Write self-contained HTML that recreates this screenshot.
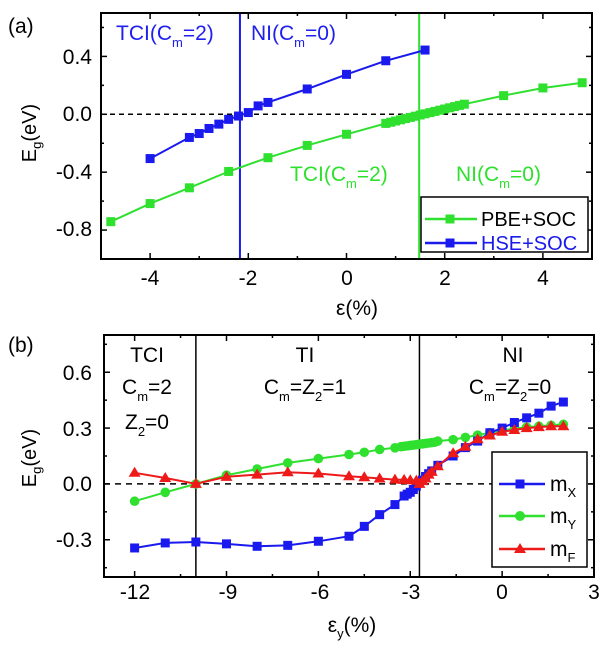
<!DOCTYPE html>
<html><head><meta charset="utf-8"><style>
html,body{margin:0;padding:0;background:#fff;}
svg{display:block;font-family:"Liberation Sans",Arial,sans-serif;}
</style></head><body>
<svg id="s" width="603" height="654" viewBox="0 0 603 654" xmlns="http://www.w3.org/2000/svg">
<rect width="603" height="654" fill="#fff"/>
<g id="plots"></g>
<text x="8" y="33" font-size="21">(a)</text>
<g font-size="21" text-anchor="end">
<text x="92" y="64">0.4</text><text x="92" y="121">0.0</text><text x="92" y="179">-0.4</text><text x="92" y="236">-0.8</text>
</g>
<g font-size="21" text-anchor="middle">
<text x="150" y="285">-4</text><text x="248" y="285">-2</text><text x="347" y="285">0</text><text x="445" y="285">2</text><text x="543" y="285">4</text>
<text x="357" y="315">ε(%)</text>
</g>
<text transform="translate(36,133) rotate(-90)" font-size="20" text-anchor="middle">E<tspan font-size="13" dy="5">g</tspan><tspan dy="-5">(eV)</tspan></text>
<g font-size="21" fill="#2020ee">
<text x="116" y="40">TCI(C<tspan font-size="13" dy="7">m</tspan><tspan dy="-7">=2)</tspan></text>
<text x="251" y="40">NI(C<tspan font-size="13" dy="7">m</tspan><tspan dy="-7">=0)</tspan></text>
</g>
<g font-size="21" fill="#2fe02f">
<text x="290" y="181">TCI(C<tspan font-size="13" dy="7">m</tspan><tspan dy="-7">=2)</tspan></text>
<text x="456" y="181">NI(C<tspan font-size="13" dy="7">m</tspan><tspan dy="-7">=0)</tspan></text>
</g>
<rect x="421" y="197" width="167" height="55" fill="#fff" stroke="#000" stroke-width="1.5"/>
<line x1="425" y1="219" x2="477" y2="219" stroke="#2fe02f" stroke-width="2.5"/><rect x="445.5" y="214.5" width="9" height="9" fill="#2fe02f"/>
<line x1="425" y1="243" x2="477" y2="243" stroke="#1a1aee" stroke-width="2.5"/><rect x="445.5" y="238.5" width="9" height="9" fill="#1a1aee"/>
<text x="481" y="226" font-size="20">PBE+SOC</text>
<text x="481" y="250" font-size="20" fill="#1a1aee">HSE+SOC</text>
<text x="8" y="352" font-size="21">(b)</text>
<g font-size="21" text-anchor="end">
<text x="92" y="380">0.6</text><text x="92" y="436">0.3</text><text x="92" y="491">0.0</text><text x="92" y="547">-0.3</text>
</g>
<g font-size="21" text-anchor="middle">
<text x="135" y="599">-12</text><text x="228" y="599">-9</text><text x="320" y="599">-6</text><text x="411" y="599">-3</text><text x="502" y="599">0</text><text x="594" y="599">3</text>
<text x="352" y="632">ε<tspan font-size="13" dy="6">y</tspan><tspan dy="-6">(%)</tspan></text>
</g>
<text transform="translate(36,458) rotate(-90)" font-size="20" text-anchor="middle">E<tspan font-size="13" dy="5">g</tspan><tspan dy="-5">(eV)</tspan></text>
<g font-size="21" text-anchor="middle">
<text x="147" y="362">TCI</text>
<text x="147" y="394">C<tspan font-size="13" dy="7">m</tspan><tspan dy="-7">=2</tspan></text>
<text x="147" y="429">Z<tspan font-size="13" dy="7">2</tspan><tspan dy="-7">=0</tspan></text>
<text x="305" y="362">TI</text>
<text x="305" y="394">C<tspan font-size="13" dy="7">m</tspan><tspan dy="-7">=Z</tspan><tspan font-size="13" dy="7">2</tspan><tspan dy="-7">=1</tspan></text>
<text x="513" y="362">NI</text>
<text x="510" y="394">C<tspan font-size="13" dy="7">m</tspan><tspan dy="-7">=Z</tspan><tspan font-size="13" dy="7">2</tspan><tspan dy="-7">=0</tspan></text>
</g>
<rect x="492" y="452" width="95" height="115" fill="#fff" stroke="#000" stroke-width="1.5"/>
<line x1="499" y1="484" x2="545" y2="484" stroke="#1a1aee" stroke-width="2.5"/><rect x="515.5" y="479.5" width="9" height="9" fill="#1a1aee"/>
<line x1="499" y1="516" x2="545" y2="516" stroke="#2fe02f" stroke-width="2.5"/><circle cx="520" cy="516" r="5" fill="#2fe02f"/>
<line x1="499" y1="549" x2="545" y2="549" stroke="#ee1a1a" stroke-width="2.5"/><polygon points="520,543 526,553 514,553" fill="#ee1a1a"/>
<g font-size="21">
<text x="550" y="491">m<tspan font-size="13" dy="6">X</tspan></text>
<text x="550" y="523">m<tspan font-size="13" dy="6">Y</tspan></text>
<text x="550" y="556">m<tspan font-size="13" dy="6">F</tspan></text>
</g>
</svg>
<script>
(function(){
var g=document.getElementById('plots'),h='';
function ax(L,R,T,B,xmin,xmax,ymin,ymax,xM,xm,yM,ym){
 var X=function(v){return L+(v-xmin)/(xmax-xmin)*(R-L)},Y=function(e){return B-(e-ymin)/(ymax-ymin)*(B-T)};
 var s='';
 for(var v=Math.ceil(xmin/xm-1e-9)*xm;v<=xmax+1e-9;v+=xm){var isM=Math.abs(v/xM-Math.round(v/xM))<1e-6,l=isM?6:3,x=X(v);
  s+='<line x1="'+x+'" y1="'+B+'" x2="'+x+'" y2="'+(B-l)+'" stroke="#000" stroke-width="1.5"/><line x1="'+x+'" y1="'+T+'" x2="'+x+'" y2="'+(T+l)+'" stroke="#000" stroke-width="1.5"/>';}
 for(var e=Math.ceil(ymin/ym-1e-9)*ym;e<=ymax+1e-9;e+=ym){var isM=Math.abs(e/yM-Math.round(e/yM))<1e-6,l=isM?6:3,y=Y(e);
  s+='<line x1="'+L+'" y1="'+y+'" x2="'+(L+l)+'" y2="'+y+'" stroke="#000" stroke-width="1.5"/><line x1="'+R+'" y1="'+y+'" x2="'+(R-l)+'" y2="'+y+'" stroke="#000" stroke-width="1.5"/>';}
 return {X:X,Y:Y,s:s};
}
function series(A,pts,col,mk){
 var p=pts.map(function(q){return A.X(q[0]).toFixed(1)+','+A.Y(q[1]).toFixed(1)}).join(' ');
 var s='<polyline points="'+p+'" fill="none" stroke="'+col+'" stroke-width="2"/>';
 pts.forEach(function(q){var x=A.X(q[0]),y=A.Y(q[1]);
  if(mk=='s')s+='<rect x="'+(x-4.5)+'" y="'+(y-4.5)+'" width="9" height="9" fill="'+col+'"/>';
  else if(mk=='c')s+='<circle cx="'+x+'" cy="'+y+'" r="4.8" fill="'+col+'"/>';
  else s+='<polygon points="'+x+','+(y-6)+' '+(x+6)+','+(y+4)+' '+(x-6)+','+(y+4)+'" fill="'+col+'"/>';});
 return s;
}
var GR='#2fe02f';
var A=ax(101,592,13,259,-5,5,-1.0,0.7,2,1,0.4,0.2);
h+='<line x1="101" y1="'+A.Y(0)+'" x2="592" y2="'+A.Y(0)+'" stroke="#000" stroke-width="1.5" stroke-dasharray="5,4"/>';
h+='<line x1="'+A.X(-2.17)+'" y1="13" x2="'+A.X(-2.17)+'" y2="259" stroke="#1a1aee" stroke-width="2"/>';
h+='<line x1="'+A.X(1.48)+'" y1="13" x2="'+A.X(1.48)+'" y2="259" stroke="'+GR+'" stroke-width="2"/>';
var g1=[[-4.8,-0.742],[-4,-0.617],[-3.2,-0.508],[-2.4,-0.395],[-1.6,-0.30],[-0.8,-0.215],[0,-0.138]];
for(var v=0.8;v<=2.41;v+=0.1)g1.push([v,-0.063+0.083*(v-0.8)]);
g1=g1.concat([[3.2,0.129],[4,0.182],[4.8,0.218]]);
var b1=[[-4,-0.306],[-3.2,-0.16],[-3,-0.133],[-2.8,-0.098],[-2.6,-0.068],[-2.4,-0.035],[-2.2,-0.012],[-2,0.012],[-1.8,0.058],[-1.6,0.082],[-0.8,0.175],[0,0.276],[0.8,0.37],[1.6,0.444]];
h+=series(A,g1,GR,'s')+series(A,b1,'#1a1aee','s');
h+='<rect x="101" y="13" width="491" height="246" fill="none" stroke="#000" stroke-width="2"/>'+A.s;
var B=ax(104,594,335,577,-13,3,-0.5,0.8,3,1.5,0.3,0.15);
h+='<line x1="104" y1="'+B.Y(0)+'" x2="594" y2="'+B.Y(0)+'" stroke="#000" stroke-width="1.5" stroke-dasharray="6,5"/>';
h+='<line x1="'+B.X(-10)+'" y1="335" x2="'+B.X(-10)+'" y2="577" stroke="#000" stroke-width="1.5"/>';
h+='<line x1="'+B.X(-2.7)+'" y1="335" x2="'+B.X(-2.7)+'" y2="577" stroke="#000" stroke-width="1.5"/>';
var mx=[[-12,-0.344],[-11,-0.317],[-10,-0.312],[-9,-0.322],[-8,-0.335],[-7,-0.33],[-6,-0.308],[-5,-0.281],[-4.5,-0.228],[-4,-0.165],[-3.5,-0.111],[-3.2,-0.065],[-3.1,-0.055],[-3,-0.045],[-2.9,-0.03],[-2.8,-0.012],[-2.7,0.005],[-2.6,0.02],[-2.5,0.04],[-2.4,0.055],[-2.3,0.07],[-2.1,0.10],[-1.6,0.15],[-1.2,0.195],[-0.8,0.23],[-0.4,0.275],[0,0.30],[0.4,0.33],[0.8,0.355],[1.2,0.38],[1.6,0.418],[2,0.44]];
var my=[[-12,-0.093],[-11,-0.045],[-10,0],[-9,0.047],[-8,0.08],[-7,0.113],[-6,0.136],[-5,0.158],[-4.5,0.17],[-4,0.185],[-3.5,0.194]];
for(var v=-3.3;v<=-2.15;v+=0.1)my.push([v,0.2+(v+3.3)*0.022]);
my=my.concat([[-2.1,0.23],[-1.6,0.238],[-1.2,0.25],[-0.8,0.262],[-0.4,0.275],[0,0.287],[0.4,0.297],[0.8,0.305],[1.2,0.31],[1.6,0.315],[2,0.32]]);
var mf=[[-12,0.06],[-11,0.032],[-10,0],[-9,0.038],[-8,0.05],[-7,0.063],[-6,0.056],[-5,0.041],[-4.5,0.036],[-4,0.029],[-3.5,0.023],[-3.2,0.022],[-3,0.02],[-2.8,0.018],[-2.7,0.0],[-2.6,0.015],[-2.5,0.03],[-2.4,0.05],[-2.3,0.065],[-2.1,0.095],[-1.6,0.165],[-1.2,0.2],[-0.8,0.24],[-0.4,0.26],[0,0.28],[0.4,0.29],[0.8,0.30],[1.2,0.305],[1.6,0.31],[2,0.31]];
h+=series(B,my,GR,'c')+series(B,mx,'#1a1aee','s')+series(B,mf,'#ee1a1a','t');
h+='<rect x="104" y="335" width="490" height="242" fill="none" stroke="#000" stroke-width="2"/>'+B.s;
g.innerHTML=h;
})();
</script>
</body></html>
